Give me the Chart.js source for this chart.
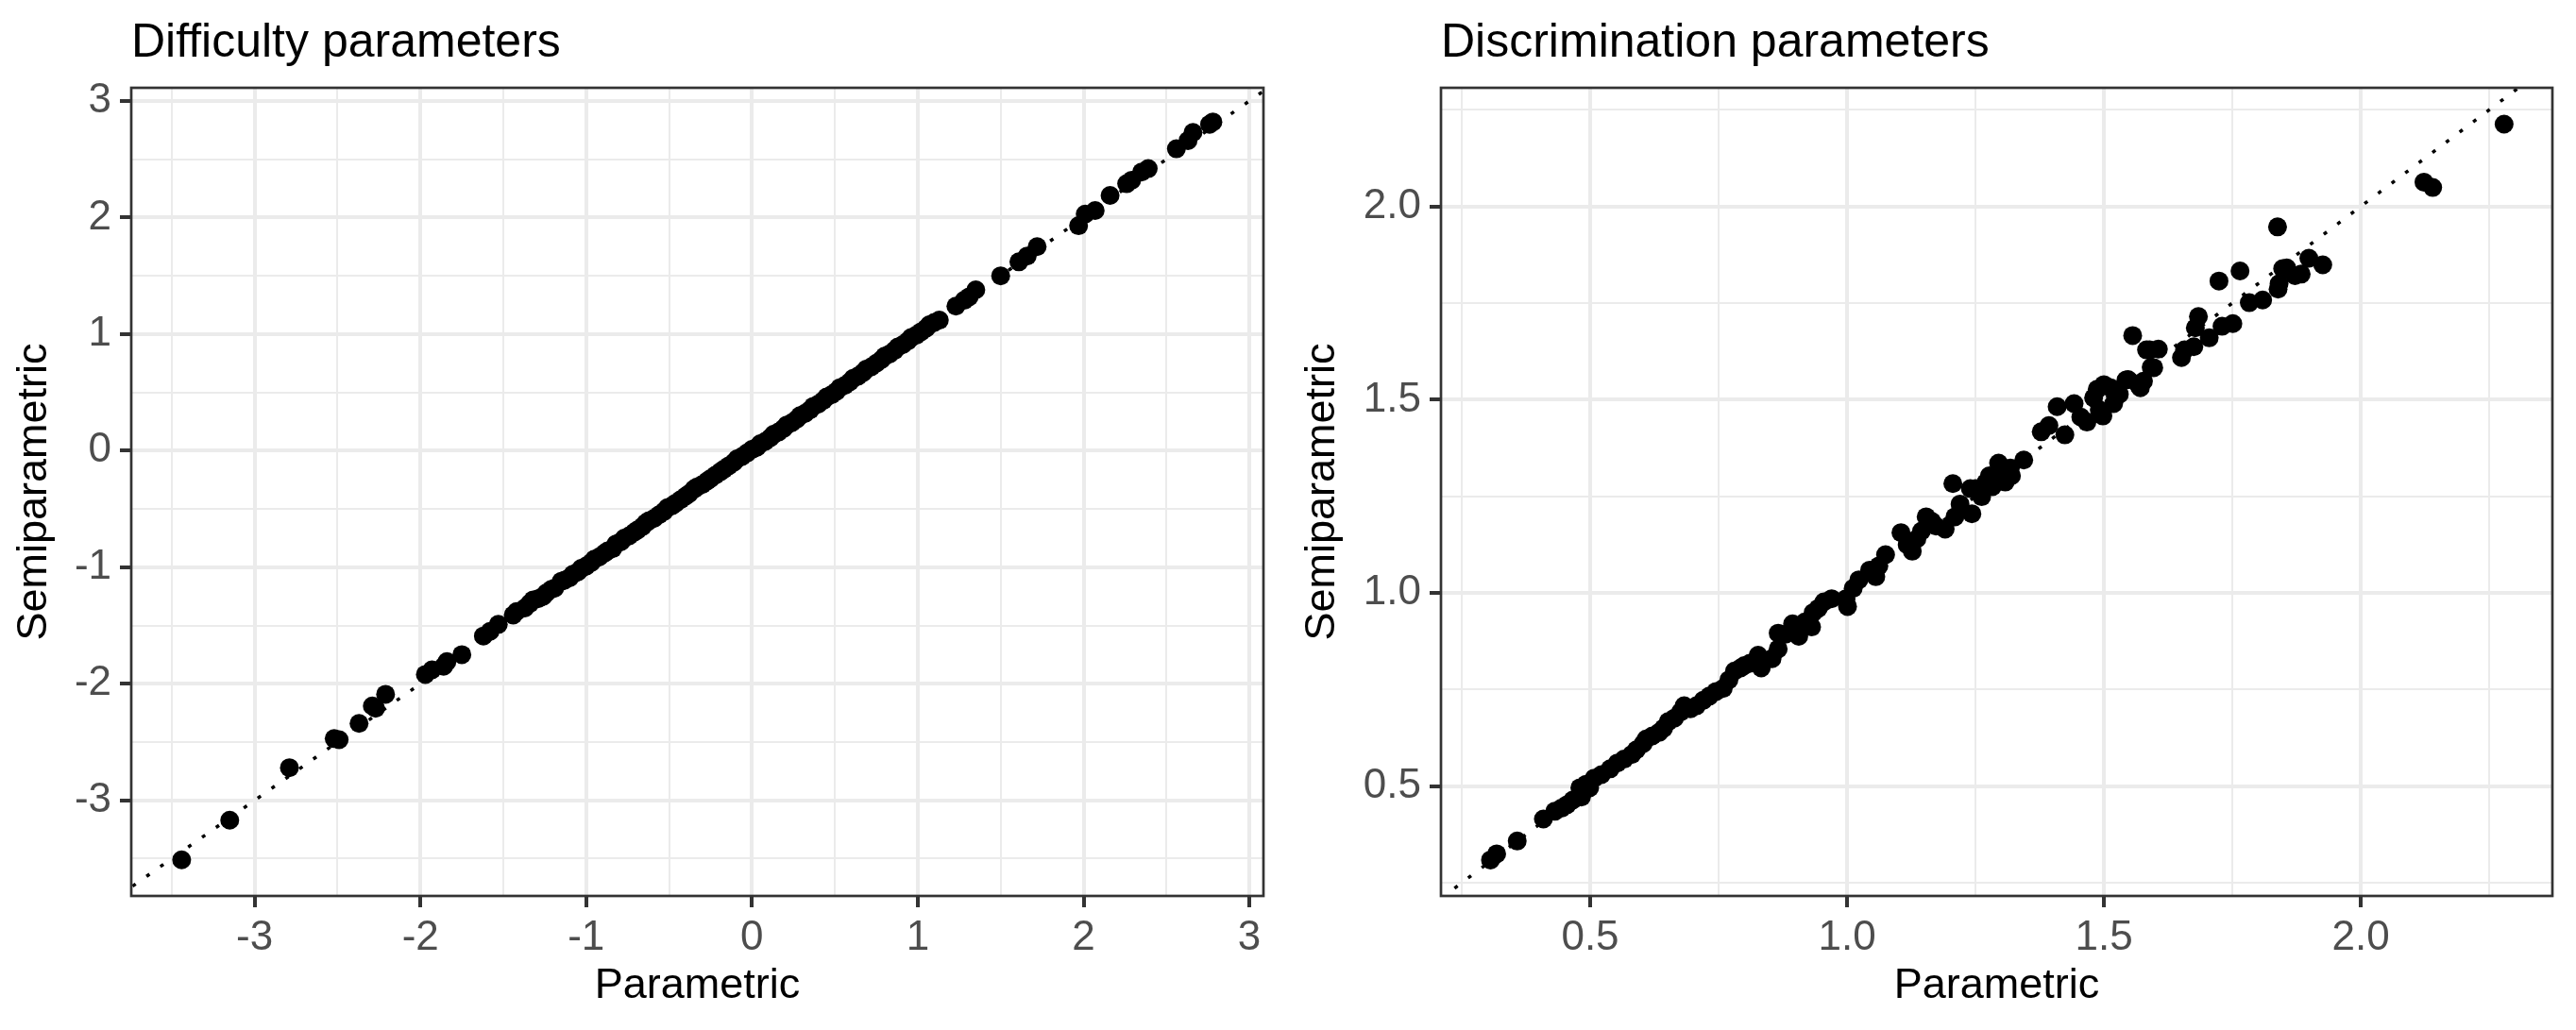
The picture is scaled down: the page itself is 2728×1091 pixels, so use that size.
<!DOCTYPE html>
<html>
<head>
<meta charset="utf-8">
<script src="https://cdn.jsdelivr.net/npm/chart.js@4.4.1/dist/chart.umd.min.js"></script>
<style>
  html, body { margin: 0; padding: 0; background: #fff; }
  .panel { position: absolute; top: 0; width: 1364px; height: 1091px; }
</style>
</head>
<body>
<div class="panel" style="left:0"><canvas id="difficulty" width="1364" height="1091"></canvas></div>
<div class="panel" style="left:1364px"><canvas id="discrimination" width="1364" height="1091"></canvas></div>
<script>
'use strict'

// difficulty estimates
const diffParametric = [
  -3.44, -3.15, -2.79, -2.52, -2.49, -2.37, -2.29, -2.27, -2.21, -1.97, -1.93, -1.86, -1.84, -1.75,
  -1.62, -1.58, -1.53, -1.44, -1.42, -1.37, -1.34, -1.32, -1.29, -1.26, -1.24, -1.21, -1.19, -1.15,
  -1.13, -1.10, -1.08, -1.05, -1.03, -1.00, -0.97, -0.95, -0.92, -0.89, -0.87, -0.84, -0.82, -0.79,
  -0.77, -0.74, -0.71, -0.69, -0.66, -0.64, -0.62, -0.59, -0.56, -0.53, -0.51, -0.48, -0.46, -0.43,
  -0.40, -0.38, -0.35, -0.33, -0.30, -0.27, -0.25, -0.22, -0.19, -0.17, -0.14, -0.11, -0.09, -0.06,
  -0.03, 0.00, 0.03, 0.05, 0.08, 0.11, 0.13, 0.16, 0.19, 0.21, 0.24, 0.27, 0.29, 0.32, 0.35, 0.37,
  0.40, 0.43, 0.45, 0.48, 0.51, 0.53, 0.56, 0.59, 0.61, 0.64, 0.67, 0.69, 0.72, 0.75, 0.78, 0.80,
  0.83, 0.86, 0.88, 0.91, 0.94, 0.96, 0.99, 1.02, 1.05, 1.07, 1.10, 1.13, 1.23, 1.28, 1.31, 1.35,
  1.50, 1.61, 1.66, 1.72, 1.97, 2.01, 2.07, 2.16, 2.26, 2.29, 2.35, 2.39, 2.56, 2.63, 2.66, 2.76, 2.78
]
const diffSemiparametric = [
  -3.51, -3.17, -2.72, -2.47, -2.48, -2.34, -2.19, -2.21, -2.09, -1.92, -1.88, -1.85, -1.81, -1.75,
  -1.59, -1.55, -1.49, -1.41, -1.38, -1.35, -1.31, -1.28, -1.27, -1.25, -1.22, -1.19, -1.18, -1.12,
  -1.11, -1.09, -1.06, -1.04, -1.01, -0.99, -0.96, -0.93, -0.91, -0.88, -0.86, -0.84, -0.80, -0.78,
  -0.75, -0.73, -0.70, -0.68, -0.65, -0.62, -0.60, -0.58, -0.55, -0.52, -0.49, -0.47, -0.45, -0.42,
  -0.39, -0.37, -0.33, -0.31, -0.29, -0.26, -0.24, -0.21, -0.18, -0.16, -0.13, -0.10, -0.07, -0.05,
  -0.02, 0.01, 0.03, 0.06, 0.08, 0.11, 0.14, 0.16, 0.19, 0.22, 0.24, 0.27, 0.30, 0.32, 0.35, 0.38,
  0.40, 0.43, 0.46, 0.48, 0.51, 0.54, 0.56, 0.59, 0.62, 0.64, 0.67, 0.70, 0.72, 0.75, 0.78, 0.81,
  0.83, 0.86, 0.89, 0.91, 0.94, 0.97, 0.99, 1.02, 1.05, 1.08, 1.10, 1.12, 1.24, 1.29, 1.32, 1.38,
  1.50, 1.62, 1.67, 1.75, 1.93, 2.03, 2.06, 2.19, 2.29, 2.32, 2.39, 2.42, 2.59, 2.66, 2.73, 2.80, 2.82
]

// discrimination estimates
const discParametric = [
  0.306, 0.318, 0.358, 0.409, 0.431, 0.444, 0.455, 0.466, 0.483, 0.480, 0.492, 0.499, 0.508, 0.522,
  0.539, 0.553, 0.566, 0.581, 0.590, 0.603, 0.609, 0.621, 0.634, 0.643, 0.652, 0.664, 0.676, 0.683,
  0.695, 0.707, 0.720, 0.732, 0.745, 0.759, 0.770, 0.781, 0.793, 0.800, 0.811, 0.827, 0.833, 0.854,
  0.866, 0.866, 0.880, 0.894, 0.906, 0.918, 0.931, 0.934, 0.944, 0.955, 0.970, 0.998, 1.001, 1.012,
  1.023, 1.044, 1.056, 1.062, 1.075, 1.105, 1.117, 1.127, 1.136, 1.145, 1.154, 1.165, 1.173, 1.191,
  1.206, 1.210, 1.220, 1.243, 1.240, 1.250, 1.259, 1.262, 1.270, 1.277, 1.283, 1.290, 1.295, 1.302,
  1.308, 1.310, 1.318, 1.320, 1.344, 1.378, 1.393, 1.409, 1.424, 1.442, 1.455, 1.467, 1.480, 1.487,
  1.491, 1.498, 1.500, 1.513, 1.519, 1.530, 1.543, 1.547, 1.556, 1.567, 1.571, 1.577, 1.583, 1.592,
  1.597, 1.589, 1.606, 1.651, 1.657, 1.675, 1.684, 1.678, 1.705, 1.730, 1.751, 1.724, 1.765, 1.783,
  1.809, 1.839, 1.848, 1.856, 1.841, 1.872, 1.884, 1.899, 1.926, 1.838, 2.123, 2.140, 2.279
]
const discSemiparametric = [
  0.309, 0.325, 0.358, 0.415, 0.435, 0.443, 0.452, 0.464, 0.472, 0.496, 0.505, 0.496, 0.521, 0.530,
  0.545, 0.560, 0.570, 0.582, 0.594, 0.610, 0.622, 0.630, 0.639, 0.650, 0.667, 0.676, 0.692, 0.708,
  0.700, 0.708, 0.722, 0.733, 0.745, 0.753, 0.775, 0.798, 0.806, 0.812, 0.818, 0.839, 0.806, 0.830,
  0.855, 0.896, 0.893, 0.920, 0.888, 0.925, 0.912, 0.949, 0.960, 0.977, 0.985, 0.985, 0.965, 1.012,
  1.034, 1.059, 1.042, 1.070, 1.099, 1.156, 1.125, 1.108, 1.140, 1.160, 1.197, 1.185, 1.173, 1.165,
  1.283, 1.197, 1.230, 1.205, 1.270, 1.270, 1.262, 1.249, 1.285, 1.303, 1.275, 1.290, 1.336, 1.310,
  1.287, 1.309, 1.323, 1.303, 1.344, 1.417, 1.433, 1.482, 1.409, 1.490, 1.455, 1.442, 1.505, 1.527,
  1.474, 1.458, 1.539, 1.531, 1.490, 1.514, 1.551, 1.552, 1.666, 1.539, 1.531, 1.548, 1.629, 1.584,
  1.583, 1.629, 1.631, 1.609, 1.629, 1.637, 1.715, 1.686, 1.660, 1.690, 1.697, 1.807, 1.833, 1.751,
  1.758, 1.786, 1.839, 1.841, 1.800, 1.821, 1.825, 1.866, 1.849, 1.947, 2.063, 2.049, 2.213
]

// axis ranges and tick positions
const diffXRange = [-3.744, 3.085]
const diffYRange = [-3.820, 3.113]
const diffMajorTicks = [-3, -2, -1, 0, 1, 2, 3]
const diffMinorTicks = [-3.5, -2.5, -1.5, -0.5, 0.5, 1.5, 2.5]

const discXRange = [0.2096, 2.373]
const discYRange = [0.216, 2.307]
const discMajorTicks = [0.5, 1.0, 1.5, 2.0]
const discMinorTicks = [0.25, 0.75, 1.25, 1.75, 2.25]

const FONT = '"Liberation Sans", Arial, Helvetica, sans-serif'

const isMajor = (majors, v) => majors.some(m => Math.abs(m - v) < 1e-9)

function axis(range, majors, minors, fmt, horizontal, titleText, yWidth) {
  return {
    type: 'linear',
    min: range[0],
    max: range[1],
    afterBuildTicks: scale => {
      scale.ticks = majors.concat(minors).sort((a, b) => a - b).map(v => ({ value: v }))
    },
    afterFit: scale => {
      if (horizontal) scale.height = 142
      else scale.width = yWidth
    },
    ticks: {
      autoSkip: false,
      maxRotation: 0,
      padding: horizontal ? 6 : 9,
      color: '#4d4d4d',
      font: { family: FONT, size: 44 },
      callback: v => isMajor(majors, v) ? fmt(v) : '',
    },
    grid: {
      color: '#ebebeb',
      lineWidth: ctx => (ctx.tick && isMajor(majors, ctx.tick.value)) ? 4 : 2,
      tickColor: ctx => (ctx.tick && isMajor(majors, ctx.tick.value)) ? '#333333' : 'rgba(0,0,0,0)',
      tickLength: 12,
      tickWidth: 4,
    },
    border: { display: false },
    title: {
      display: true,
      text: titleText,
      color: '#000000',
      font: { family: FONT, size: 45, lineHeight: 1.2 },
      padding: horizontal ? { top: 0, bottom: 19 } : { top: 10, bottom: 0 },
    },
  }
}

// ggplot-like panel frame and left-aligned title
const panelDecor = {
  id: 'panelDecor',
  afterDraw(chart, args, opts) {
    const { ctx, chartArea } = chart
    ctx.save()
    ctx.strokeStyle = '#333333'
    ctx.lineWidth = 2.7
    ctx.strokeRect(chartArea.left, chartArea.top, chartArea.right - chartArea.left, chartArea.bottom - chartArea.top)
    ctx.fillStyle = '#000000'
    ctx.font = '50px ' + FONT
    ctx.textAlign = 'left'
    ctx.textBaseline = 'alphabetic'
    ctx.fillText(opts.text, chartArea.left, 60)
    ctx.restore()
  },
}

function makePanel(canvasId, cfg) {
  const points = cfg.x.map((v, i) => ({ x: v, y: cfg.y[i] }))
  const lo = Math.min(cfg.xRange[0], cfg.yRange[0])
  const hi = Math.max(cfg.xRange[1], cfg.yRange[1])

  return new Chart(document.getElementById(canvasId), {
    type: 'scatter',
    data: {
      datasets: [
        {
          // y = x reference line
          type: 'line',
          data: [{ x: lo, y: lo }, { x: hi, y: hi }],
          borderColor: '#000000',
          borderWidth: 3.5,
          borderDash: [4, 14],
          pointRadius: 0,
          fill: false,
        },
        {
          data: points,
          backgroundColor: '#000000',
          borderWidth: 0,
          pointRadius: 10,
        },
      ],
    },
    options: {
      responsive: false,
      animation: false,
      devicePixelRatio: 1,
      events: [],
      layout: { padding: { top: 93, right: cfg.rightPad, bottom: 0, left: 0 } },
      plugins: {
        legend: { display: false },
        tooltip: { enabled: false },
        panelDecor: { text: cfg.title },
      },
      scales: {
        x: axis(cfg.xRange, cfg.xMajor, cfg.xMinor, cfg.fmt, true, 'Parametric'),
        y: axis(cfg.yRange, cfg.yMajor, cfg.yMinor, cfg.fmt, false, 'Semiparametric', cfg.yWidth),
      },
    },
    plugins: [panelDecor],
  })
}

makePanel('difficulty', {
  title: 'Difficulty parameters',
  x: diffParametric,
  y: diffSemiparametric,
  xRange: diffXRange,
  yRange: diffYRange,
  xMajor: diffMajorTicks,
  xMinor: diffMinorTicks,
  yMajor: diffMajorTicks,
  yMinor: diffMinorTicks,
  fmt: v => String(v),
  yWidth: 139,
  rightPad: 26,
})

makePanel('discrimination', {
  title: 'Discrimination parameters',
  x: discParametric,
  y: discSemiparametric,
  xRange: discXRange,
  yRange: discYRange,
  xMajor: discMajorTicks,
  xMinor: discMinorTicks,
  yMajor: discMajorTicks,
  yMinor: discMinorTicks,
  fmt: v => v.toFixed(1),
  yWidth: 162,
  rightPad: 25,
})
</script>
</body>
</html>
